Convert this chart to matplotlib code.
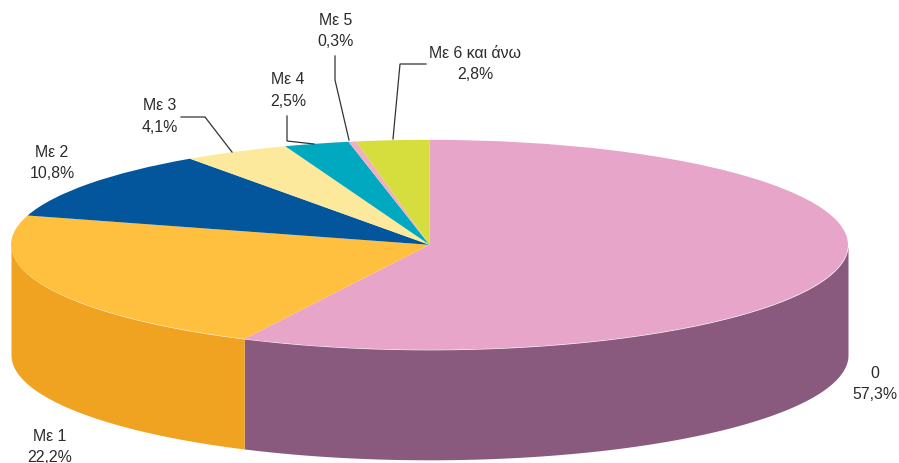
import numpy as np
import matplotlib
matplotlib.use("Agg")
import matplotlib.pyplot as plt

categories = ["0", "Με 1", "Με 2", "Με 3", "Με 4", "Με 5", "Με 6 και άνω"]
values = [57.3, 22.2, 10.8, 4.1, 2.5, 0.3, 2.8]
value_labels = ["57,3%", "22,2%", "10,8%", "4,1%", "2,5%", "0,3%", "2,8%"]
top_colors = ["#E6A5C9", "#FFC040", "#03559C", "#FDE99B", "#00A9C0", "#F2AFC0", "#D5DE3C"]
side_colors = ["#8A5A7E", "#F0A320", "#023F75", "#D8C57F", "#00808F", "#C08A98", "#A5AC2E"]

W, H = 899, 464
CX, CY, RX, RY, DEPTH = 429.5, 245.8, 418.5, 105.0, 110.0

plt.rcParams["font.family"] = ["Liberation Sans", "DejaVu Sans"]
fig = plt.figure(figsize=(W / 100, H / 100), dpi=100, facecolor="white")

# Pie axes: unit circle squashed into the tilted ellipse by non-equal scaling
ax = fig.add_axes([0, 0, 1, 1])
ax.pie(values, colors=top_colors, startangle=90, counterclock=False, radius=1,
       wedgeprops=dict(linewidth=0.3, edgecolor="none", zorder=3), normalize=True)
ax.set_aspect("auto")
ax.set_xlim(-CX / RX, (W - CX) / RX)
ax.set_ylim((CY - H) / RY, CY / RY)
ax.axis("off")

# Side wall: visible only on the front half of the disc
d = DEPTH / RY
edges = np.concatenate([[0], np.cumsum(values)]) / sum(values) * 2 * np.pi
for i, col in enumerate(side_colors):
    a0, a1 = max(edges[i], np.pi / 2), min(edges[i + 1], 3 * np.pi / 2)
    if a1 <= a0:
        continue
    t = np.linspace(a0, a1, 200)
    ax.fill_between(np.sin(t), np.cos(t), np.cos(t) - d, color=col, linewidth=0, zorder=2)

# Overlay in pixel coordinates for labels and leader lines
ov = fig.add_axes([0, 0, 1, 1], facecolor="none")
ov.set_xlim(0, W)
ov.set_ylim(H, 0)
ov.axis("off")

label_xy = [(875, 384), (50, 447), (52, 163), (160, 116.5), (288, 90.5), (336, 31), (475, 64)]
for name, val, (x, y) in zip(categories, value_labels, label_xy):
    ov.text(x, y, f"{name}\n{val}", ha="center", va="center", fontsize=11.4,
            color="#2B2B2B", linespacing=1.5, clip_on=False)

leaders = [
    [(181, 118), (205, 118), (232, 153)],
    [(287, 117), (287, 142), (314, 145)],
    [(335, 57), (335, 81), (349, 141)],
    [(426, 65), (400, 65), (393, 140)],
]
for pts in leaders:
    xs, ys = zip(*pts)
    ov.plot(xs, ys, color="#333333", lw=0.9, solid_joinstyle="miter")

fig.savefig("out.png", dpi=100, facecolor="white")
